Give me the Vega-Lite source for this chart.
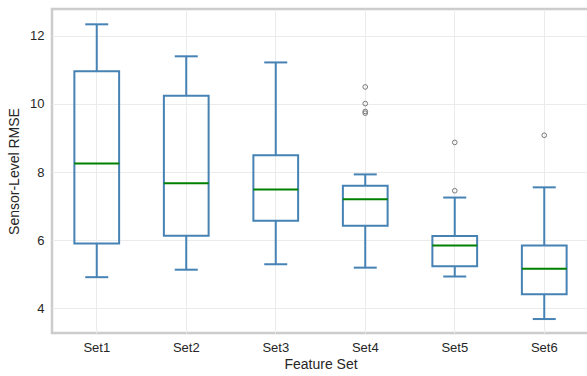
{
  "$schema": "https://vega.github.io/schema/vega-lite/v6.json",
  "width": 537,
  "height": 324,
  "autosize": "none",
  "padding": {"left": 52, "top": 9, "right": 0, "bottom": 43},
  "background": "white",
  "config": {
    "view": {"stroke": "#cccccc", "strokeWidth": 2.5},
    "axis": {
      "labelFont": "Liberation Sans",
      "titleFont": "Liberation Sans",
      "labelFontSize": 13,
      "titleFontSize": 14,
      "labelColor": "#262626",
      "titleColor": "#262626",
      "titleFontWeight": "normal",
      "gridColor": "#ebebeb",
      "gridWidth": 1,
      "domain": false,
      "ticks": false
    }
  },
  "datasets": {
    "boxes": [
      {"set": "Set1", "lower": 4.91, "q1": 5.90, "median": 8.25, "q3": 10.96, "upper": 12.34},
      {"set": "Set2", "lower": 5.13, "q1": 6.13, "median": 7.67, "q3": 10.24, "upper": 11.40},
      {"set": "Set3", "lower": 5.29, "q1": 6.57, "median": 7.49, "q3": 8.49, "upper": 11.22},
      {"set": "Set4", "lower": 5.19, "q1": 6.42, "median": 7.20, "q3": 7.60, "upper": 7.93},
      {"set": "Set5", "lower": 4.93, "q1": 5.23, "median": 5.84, "q3": 6.12, "upper": 7.25},
      {"set": "Set6", "lower": 3.68, "q1": 4.41, "median": 5.16, "q3": 5.84, "upper": 7.55}
    ],
    "outliers": [
      {"set": "Set4", "value": 10.50},
      {"set": "Set4", "value": 10.01},
      {"set": "Set4", "value": 9.78},
      {"set": "Set4", "value": 9.73},
      {"set": "Set5", "value": 8.87},
      {"set": "Set5", "value": 7.45},
      {"set": "Set6", "value": 9.08}
    ]
  },
  "encoding": {
    "x": {
      "field": "set",
      "type": "nominal",
      "scale": {"paddingInner": 0, "paddingOuter": 0},
      "axis": {"labelAngle": 0, "grid": true, "bandPosition": 0.5, "title": "Feature Set", "labelPadding": 8, "titlePadding": 3}
    }
  },
  "layer": [
    {
      "data": {"name": "boxes"},
      "mark": {"type": "rule", "color": "steelblue", "strokeWidth": 2},
      "encoding": {
        "y": {
          "field": "lower",
          "type": "quantitative",
          "scale": {"domain": [3.27, 12.79], "nice": false, "zero": false},
          "axis": {"values": [4, 6, 8, 10, 12], "title": "Sensor-Level RMSE", "grid": true, "labelPadding": 8, "titlePadding": 8}
        },
        "y2": {"field": "q1"}
      }
    },
    {
      "data": {"name": "boxes"},
      "mark": {"type": "rule", "color": "steelblue", "strokeWidth": 2},
      "encoding": {
        "y": {"field": "q3", "type": "quantitative"},
        "y2": {"field": "upper"}
      }
    },
    {
      "data": {"name": "boxes"},
      "mark": {"type": "tick", "color": "steelblue", "size": 23, "thickness": 2, "orient": "horizontal", "opacity": 1},
      "encoding": {"y": {"field": "upper", "type": "quantitative"}}
    },
    {
      "data": {"name": "boxes"},
      "mark": {"type": "tick", "color": "steelblue", "size": 23, "thickness": 2, "orient": "horizontal", "opacity": 1},
      "encoding": {"y": {"field": "lower", "type": "quantitative"}}
    },
    {
      "data": {"name": "boxes"},
      "mark": {"type": "bar", "width": {"band": 0.5}, "fill": "white", "fillOpacity": 0, "stroke": "steelblue", "strokeWidth": 2},
      "encoding": {
        "y": {"field": "q1", "type": "quantitative"},
        "y2": {"field": "q3"}
      }
    },
    {
      "data": {"name": "boxes"},
      "mark": {"type": "tick", "color": "green", "size": 45, "thickness": 2, "orient": "horizontal", "opacity": 1},
      "encoding": {"y": {"field": "median", "type": "quantitative"}}
    },
    {
      "data": {"name": "outliers"},
      "mark": {"type": "point", "shape": "circle", "filled": false, "stroke": "#7a7a7a", "strokeWidth": 1, "size": 22, "opacity": 1},
      "encoding": {"y": {"field": "value", "type": "quantitative"}}
    }
  ]
}
